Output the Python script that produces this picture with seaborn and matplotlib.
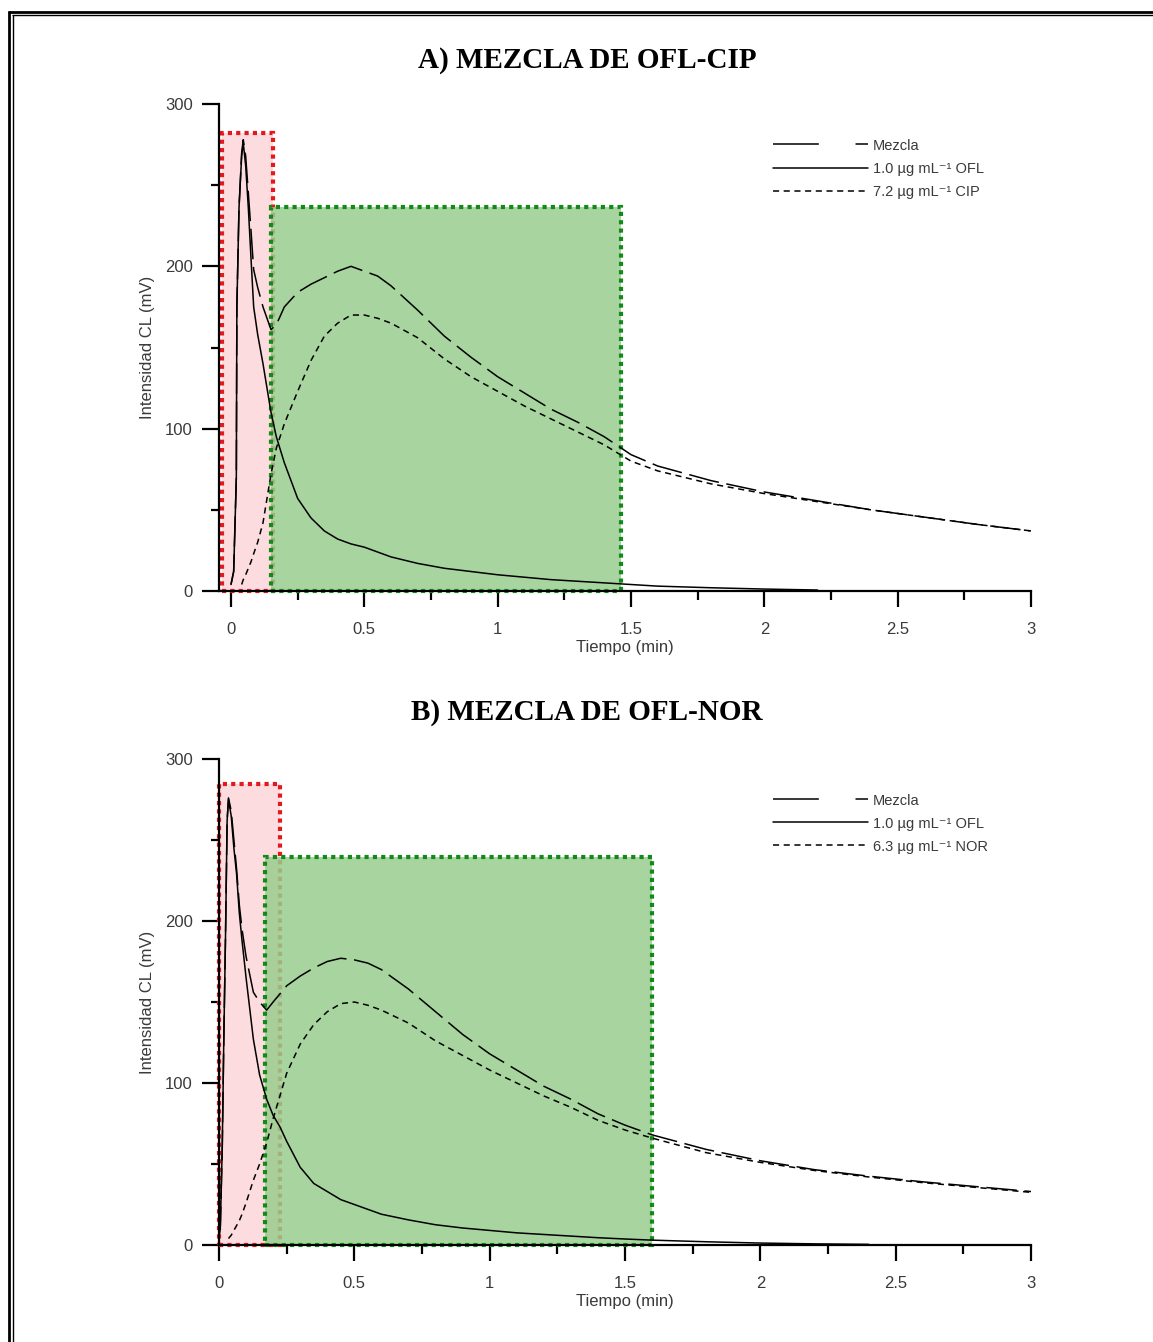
import numpy as np
import pandas as pd
import matplotlib
matplotlib.use("Agg")
import matplotlib.pyplot as plt
import seaborn as sns
from matplotlib.patches import Rectangle
from matplotlib.lines import Line2D
from matplotlib.ticker import MultipleLocator

nan = np.nan

# ---------------- Panel A : OFL-CIP ----------------
a_time = [0.000, 0.010, 0.020, 0.022, 0.030, 0.040, 0.046, 0.055, 0.065, 0.075,
          0.085, 0.100, 0.120, 0.150, 0.170, 0.200, 0.250, 0.300, 0.350, 0.400,
          0.450, 0.500, 0.550, 0.600, 0.700, 0.800, 0.900, 1.000, 1.100, 1.200,
          1.300, 1.400, 1.500, 1.600, 1.800, 2.000, 2.200, 2.400, 2.600, 2.800, 3.000]
a_ofl = [4, 12, 70, 175, 236, 268, 276, 262, 236, 205,
         175, 158, 140, 110, 95, 79, 57, 45, 37, 32,
         29, 27, 24, 21, 17, 14, 12, 10, 8.5, 7,
         6, 5, 4, 3, 2, 1.2, 0.6, nan, nan, nan, nan]
a_cip = [nan, nan, nan, nan, nan, 4, 7, 10, 14, 18,
         23, 30, 42, 72, 88, 103, 123, 142, 157, 165,
         170, 170, 168, 165, 156, 143, 132, 123, 114, 106,
         98, 90, 80, 74, 66, 60, 55, 50, 45.5, 41, 37]
a_mez = [4, 12, 70, 175, 236, 270, 278, 268, 245, 222,
         198, 187, 175, 161, 164, 175, 184, 189, 193, 197,
         200, 197, 194, 188, 173, 157, 144, 132, 122, 112,
         104, 95, 84, 77, 68, 61, 55.5, 50, 45.5, 41, 37]
a_labels = ["Mezcla", "1.0 µg mL⁻¹ OFL", "7.2 µg mL⁻¹ CIP"]
a_red_box = (-0.034, 0.158, 282)
a_green_box = (0.150, 1.4625, 236.5)

# ---------------- Panel B : OFL-NOR ----------------
b_time = [0.000, 0.005, 0.012, 0.018, 0.024, 0.030, 0.035, 0.045, 0.055, 0.065,
          0.075, 0.085, 0.100, 0.127, 0.150, 0.176, 0.200, 0.225, 0.250, 0.300,
          0.350, 0.400, 0.450, 0.500, 0.550, 0.600, 0.700, 0.800, 0.900, 1.000,
          1.100, 1.200, 1.300, 1.400, 1.500, 1.600, 1.800, 2.000, 2.200, 2.400,
          2.600, 2.800, 3.000]
b_ofl = [5, 12, 60, 130, 190, 262, 275, 265, 245, 229,
         205, 188, 165, 127, 105, 90, 80, 73, 64, 48,
         38, 33, 28, 25, 22, 19, 15.5, 12.5, 10.5, 9,
         7.5, 6.5, 5.5, 4.5, 3.7, 3, 2, 1.2, 0.7, 0.4,
         nan, nan, nan]
b_nor = [nan, nan, nan, nan, nan, nan, 4, 6, 9, 12,
         15, 19, 26, 40, 50, 63, 78, 92, 106, 124,
         136, 144, 149, 150, 148, 145, 137, 126, 117, 108,
         100, 92, 85, 77, 71, 66, 57, 51, 46, 42,
         38.5, 35.5, 32.5]
b_mez = [5, 12, 60, 130, 190, 262, 276, 268, 250, 232,
         210, 195, 178, 156, 150, 145, 150, 155, 160, 166,
         171, 175, 177, 176, 174, 170, 158, 144, 130, 118,
         108, 98, 90, 81, 74, 68, 59, 52, 46.5, 42.5,
         39, 36, 33]
b_labels = ["Mezcla", "1.0 µg mL⁻¹ OFL", "6.3 µg mL⁻¹ NOR"]
b_red_box = (0.0, 0.225, 284.5)
b_green_box = (0.170, 1.600, 239.5)

x_tick_vals = [0, 0.5, 1, 1.5, 2, 2.5, 3]
x_tick_labels = ["0", "0.5", "1", "1.5", "2", "2.5", "3"]
y_tick_vals = [0, 100, 200, 300]

# ---------------- style ----------------
sns.set_style("ticks")
plt.rcParams['font.family'] = ['Liberation Sans', 'DejaVu Sans']
TXT = '#3a3a3a'

W, H = 1153, 1342
fig = plt.figure(figsize=(W / 100, H / 100), dpi=100)

MEZ_LS = (0, (20, 5))
SEC_LS = (0, (4, 3))


def series_df(t, v):
    return pd.DataFrame({"t": t, "v": v}).dropna()


def draw_panel(rect_px, time, ofl, sec, mez, labels, xlim, red, green, title, title_y):
    l, t, r, b = rect_px
    ax = fig.add_axes([l / W, 1 - b / H, (r - l) / W, (b - t) / H])

    # shaded regions
    rx0, rx1, rtop = red
    gx0, gx1, gtop = green
    ax.add_patch(Rectangle((rx0, 0), rx1 - rx0, rtop, facecolor='#fcdcde',
                           edgecolor='none', zorder=1, clip_on=False))
    ax.add_patch(Rectangle((rx0, 0), rx1 - rx0, rtop, facecolor='none',
                           edgecolor='#e3191e', lw=3, linestyle=(0, (1, 1)),
                           zorder=1.1, clip_on=False))
    ax.add_patch(Rectangle((gx0, 0), gx1 - gx0, gtop, facecolor=(153/255, 205/255, 143/255),
                           alpha=0.85, edgecolor='none', zorder=1.2, clip_on=False))
    ax.add_patch(Rectangle((gx0, 0), gx1 - gx0, gtop, facecolor='none',
                           edgecolor='#13891a', lw=3, linestyle=(0, (1, 1)),
                           zorder=1.3, clip_on=False))

    # curves
    dm = series_df(time, mez)
    do = series_df(time, ofl)
    ds = series_df(time, sec)
    sns.lineplot(data=dm, x="t", y="v", ax=ax, color='black', lw=1.1,
                 linestyle=MEZ_LS, estimator=None, sort=False, zorder=3)
    sns.lineplot(data=do, x="t", y="v", ax=ax, color='black', lw=1.1,
                 linestyle='-', estimator=None, sort=False, zorder=3)
    sns.lineplot(data=ds, x="t", y="v", ax=ax, color='black', lw=1.1,
                 linestyle=SEC_LS, estimator=None, sort=False, zorder=3)

    ax.set_xlim(*xlim)
    ax.set_ylim(0, 300)
    ax.set_xticks(x_tick_vals)
    ax.set_xticklabels(x_tick_labels)
    ax.xaxis.set_minor_locator(MultipleLocator(0.25))
    ax.set_yticks(y_tick_vals)
    ax.yaxis.set_minor_locator(MultipleLocator(50))
    sns.despine(ax=ax)
    for s in ['left', 'bottom']:
        ax.spines[s].set_linewidth(1.6)
        ax.spines[s].set_color('black')
        ax.spines[s].set_zorder(2)
    ax.tick_params(axis='x', which='major', length=11.5, width=1.6, pad=11,
                   labelsize=12, labelcolor=TXT, color='black')
    ax.tick_params(axis='x', which='minor', length=6.5, width=1.6, color='black')
    ax.tick_params(axis='y', which='major', length=12, width=1.6, pad=7,
                   labelsize=12, labelcolor=TXT, color='black')
    ax.tick_params(axis='y', which='minor', length=6, width=1.6, color='black')
    ax.set_xlabel("Tiempo (min)", fontsize=12, color=TXT, labelpad=2)
    ax.set_ylabel("Intensidad CL (mV)", fontsize=12, color=TXT, labelpad=7)
    ax.patch.set_alpha(0)

    handles = [Line2D([], [], color='black', lw=1.1, linestyle=(0, (30, 24))),
               Line2D([], [], color='black', lw=1.1, linestyle='-'),
               Line2D([], [], color='black', lw=1.1, linestyle=SEC_LS)]
    leg = ax.legend(handles, labels, loc='upper left', bbox_to_anchor=(0.675, 0.941),
                    frameon=False, fontsize=10.5, handlelength=6.5,
                    handletextpad=0.35, labelspacing=0.62, borderaxespad=0)
    for txt in leg.get_texts():
        txt.set_color(TXT)

    fig.text(587 / W, 1 - title_y / H, title, ha='center', va='center',
             fontfamily='Liberation Serif', fontweight='bold', fontsize=21, color='black')
    return ax


draw_panel((219, 104, 1031, 591), a_time, a_ofl, a_cip, a_mez, a_labels,
           (-0.045, 3.0), a_red_box, a_green_box, "A) MEZCLA DE OFL-CIP", 60)
draw_panel((219, 759, 1031, 1245), b_time, b_ofl, b_nor, b_mez, b_labels,
           (0.0, 3.0), b_red_box, b_green_box, "B) MEZCLA DE OFL-NOR", 713)

# double page frame (top and left only, as in the reference)
fig.add_artist(Line2D([8 / W, 1], [1 - 12.2 / H] * 2, transform=fig.transFigure,
                      color='black', lw=2.0, solid_capstyle='butt'))
fig.add_artist(Line2D([12 / W, 1], [1 - 15.3 / H] * 2, transform=fig.transFigure,
                      color='black', lw=1.0, solid_capstyle='butt'))
fig.add_artist(Line2D([9.3 / W] * 2, [0, 1 - 11 / H], transform=fig.transFigure,
                      color='black', lw=2.0, solid_capstyle='butt'))
fig.add_artist(Line2D([12.7 / W] * 2, [0, 1 - 14.7 / H], transform=fig.transFigure,
                      color='black', lw=1.0, solid_capstyle='butt'))

fig.savefig("out.png", dpi=100, facecolor='white')
